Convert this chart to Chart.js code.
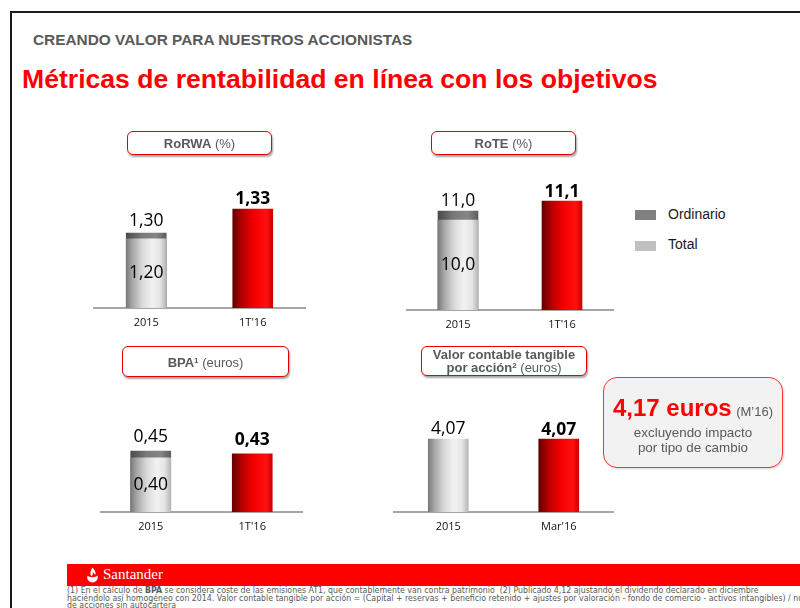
<!DOCTYPE html>
<html><head><meta charset="utf-8">
<script src="https://cdn.jsdelivr.net/npm/chart.js@4.4.1/dist/chart.umd.min.js"></script>
<style>
html,body{margin:0;padding:0;background:#fff;}
body{width:800px;height:608px;position:relative;overflow:hidden;font-family:'Liberation Sans',Arial,sans-serif;}
.abs{position:absolute;}
#frame{left:10px;top:11px;width:820px;height:640px;border-left:2px solid #1a1a1a;border-top:2px solid #1a1a1a;}
#hdr{left:33px;top:31px;font-weight:bold;font-size:15.4px;color:#595959;white-space:nowrap;}
#ttl{left:22px;top:64px;font-weight:bold;font-size:26.6px;color:#ff0000;white-space:nowrap;}
.tbox{position:absolute;border:1.5px solid #e60000;border-radius:6px;background:#fff;box-shadow:1px 2px 2px rgba(0,0,0,0.35);display:flex;align-items:center;justify-content:center;text-align:center;font-size:13px;color:#595959;box-sizing:border-box;z-index:2;line-height:11px;}
.tbox b{color:#595959;}
.leg{position:absolute;font-size:14px;color:#1a1a1a;white-space:nowrap;}
.sw{position:absolute;width:21px;height:10px;}
#call{left:603px;top:377px;width:180px;height:91px;border:1.5px solid #ff3333;border-radius:14px;background:#f2f2f2;box-sizing:border-box;box-shadow:1px 1px 2px rgba(0,0,0,0.15);text-align:center;color:#595959;}
#footbar{left:67px;top:564px;width:740px;height:22px;background:#ff0000;}
#foot{left:67px;top:586px;width:820px;font-family:'Liberation Sans Narrow','DejaVu Sans Condensed',sans-serif;font-size:9.5px;line-height:7.7px;color:#595959;white-space:nowrap;overflow:hidden;height:22px;transform:scaleX(0.92);transform-origin:0 0;}
canvas{position:absolute;}
</style>
</head>
<body>
<div id="frame" class="abs"></div>
<div id="hdr" class="abs">CREANDO VALOR PARA NUESTROS ACCIONISTAS</div>
<div id="ttl" class="abs">Métricas de rentabilidad en línea con los objetivos</div>

<canvas id="c1" width="213" height="190" style="left:93px;top:148px"></canvas>
<canvas id="c2" width="208" height="190" style="left:406px;top:150px"></canvas>
<canvas id="c3" width="203" height="190" style="left:100px;top:352px"></canvas>
<canvas id="c4" width="221" height="190" style="left:393px;top:352px"></canvas>

<div class="tbox" style="left:127px;top:131px;width:145px;height:24px;"><span><b>RoRWA</b> (%)</span></div>
<div class="tbox" style="left:431px;top:131px;width:145px;height:24px;"><span><b>RoTE</b> (%)</span></div>
<div class="tbox" style="left:122px;top:346px;width:167px;height:31px;"><span><b>BPA<sup style="font-size:8px;vertical-align:4px">1</sup></b> (euros)</span></div>
<div class="tbox" style="left:421px;top:346px;width:166px;height:30px;"><span><b>Valor contable tangible<br>por acción<sup style="font-size:8px;vertical-align:4px">2</sup></b> (euros)</span></div>

<div class="sw" style="left:635px;top:210px;background:#808080"></div>
<div class="leg" style="left:668px;top:206px">Ordinario</div>
<div class="sw" style="left:635px;top:241px;background:#c0c0c0"></div>
<div class="leg" style="left:668px;top:236px">Total</div>

<div id="call" class="abs">
  <div style="margin-top:16px;white-space:nowrap"><span style="color:#ff0000;font-weight:bold;font-size:24px">4,17 euros</span> <span style="font-size:13px;color:#595959">(M’16)</span></div>
  <div style="font-size:13.4px;line-height:15px;margin-top:3px">excluyendo impacto<br>por tipo de cambio</div>
</div>

<div id="footbar" class="abs">
  <svg style="position:absolute;left:19px;top:3px" width="13" height="16" viewBox="0 0 14 16"><path d="M7 0 C9.5 3 11 5 10 8 C9 6.5 8 5.5 7 4.5 C8 6.5 7.2 8 6 9.2 C4 7.5 4.5 4 7 0Z M1.8 8.6 C0 12 3 16 7 16 C11 16 14 12 12.2 8.6 C11 11 3 11 1.8 8.6Z" fill="#fff"/></svg>
  <div style="position:absolute;left:36px;top:2px;color:#fff;font-family:'Liberation Serif',serif;font-size:15px;">Santander</div>
</div>
<div id="foot" class="abs">(1) En el cálculo de <b>BPA</b> se considera coste de las emisiones AT1, que contablemente van contra patrimonio &nbsp;(2) Publicado 4,12 ajustando el dividendo declarado en diciembre<br>haciéndolo así homogéneo con 2014. Valor contable tangible por acción = (Capital + reservas + beneficio retenido + ajustes por valoración - fondo de comercio - activos intangibles) / número<br>de acciones sin autocartera</div>

<script>
// ---- Data ----
const rorwaLabels = ['2015', "1T'16"];
const rorwaTotal = [1.20, null];
const rorwaOrdinario = [1.30, null];
const rorwaActual = [null, 1.33];

const roteLabels = ['2015', "1T'16"];
const roteTotal = [10.0, null];
const roteOrdinario = [11.0, null];
const roteActual = [null, 11.1];

const bpaLabels = ['2015', "1T'16"];
const bpaTotal = [0.40, null];
const bpaOrdinario = [0.45, null];
const bpaActual = [null, 0.43];

const vctLabels = ['2015', "Mar'16"];
const vctTotal = [4.07, null];
const vctActual = [null, 4.07];

// ---- Styles ----
const BAR = 40;
const greyStops = [[0,'#7a7a7a'],[0.15,'#a6a6a6'],[0.4,'#d9d9d9'],[0.65,'#f2f2f2'],[0.85,'#e4e4e4'],[1,'#b5b5b5']];
const capStops = [[0,'#4a4a4a'],[0.4,'#7a7a7a'],[0.75,'#858585'],[1,'#5e5e5e']];
const redStops = [[0,'#650000'],[0.25,'#b80000'],[0.55,'#f50000'],[0.85,'#ff1010'],[1,'#cc0000']];

function barFill(stops){
  return (c) => {
    const chart = c.chart;
    if (c.type !== 'data' || !chart.chartArea || !chart.scales.x) return stops[Math.floor(stops.length/2)][1];
    const x = chart.scales.x.getPixelForValue(c.dataIndex);
    const g = chart.ctx.createLinearGradient(x - BAR/2, 0, x + BAR/2, 0);
    stops.forEach(([o,col]) => g.addColorStop(o,col));
    return g;
  };
}

const valueLabels = {
  id: 'valueLabels',
  afterDatasetsDraw(chart, args, opts) {
    const ctx = chart.ctx;
    chart.data.datasets.forEach((ds, di) => {
      const meta = chart.getDatasetMeta(di);
      const pos = opts.pos[di];
      if (!pos) return;
      meta.data.forEach((el, i) => {
        const v = ds.data[i];
        if (v == null) return;
        const txt = v.toFixed(opts.decimals).replace('.', ',');
        ctx.save();
        ctx.font = (pos === 'bold' ? 'bold ' : '') + '17.5px "Open Sans"';
        ctx.fillStyle = '#000';
        ctx.textAlign = 'center';
        if (pos === 'inside') {
          ctx.textBaseline = 'middle';
          ctx.fillText(txt, el.x, (el.y + el.base) / 2);
        } else {
          ctx.textBaseline = 'bottom';
          ctx.fillText(txt, el.x, el.y - (pos === 'bold' ? opts.gapB : opts.gap));
        }
        ctx.restore();
      });
    });
  }
};

function makeChart(id, labels, datasets, pos, decimals, yMax, y2Max, gap, gapB) {
  new Chart(document.getElementById(id), {
    type: 'bar',
    data: { labels, datasets },
    options: {
      responsive: false,
      animation: false,
      layout: { padding: { top: 30, bottom: 0.8, left: 0, right: 0 } },
      plugins: {
        legend: { display: false },
        tooltip: { enabled: false },
        valueLabels: { pos, decimals, gap, gapB }
      },
      datasets: { bar: { barThickness: BAR, borderWidth: 0 } },
      scales: {
        x: {
          stacked: true,
          grid: { display: false, drawTicks: false },
          border: { display: true, color: '#a6a6a6', width: 2 },
          ticks: { padding: 8, color: '#111', font: { family: 'Open Sans', size: 11 } }
        },
        y: { display: false, min: 0, max: yMax, stacked: false },
        y2: { display: false, min: 0, max: y2Max, stacked: false }
      }
    },
    plugins: [valueLabels]
  });
}

function ds3(total, ordinario, actual) {
  return [
    { label: 'Total', data: total, yAxisID: 'y', backgroundColor: barFill(greyStops) },
    { label: 'Ordinario', data: ordinario, yAxisID: 'y', backgroundColor: barFill(capStops) },
    { label: 'Actual', data: actual, yAxisID: 'y2', backgroundColor: barFill(redStops) }
  ];
}

makeChart('c1', rorwaLabels, ds3(rorwaTotal, rorwaOrdinario, rorwaActual), ['inside','above','bold'], 2, 2.253, 1.746, 3, 1);
makeChart('c2', roteLabels, ds3(roteTotal, roteOrdinario, roteActual), ['inside','above','bold'], 1, 14.44, 13.24, 1, 0);
makeChart('c3', bpaLabels, ds3(bpaTotal, bpaOrdinario, bpaActual), ['inside','above','bold'], 2, 0.959, 0.959, 5, 5);
makeChart('c4', vctLabels, [
  { label: 'Total', data: vctTotal, yAxisID: 'y', backgroundColor: barFill(greyStops) },
  { label: 'Actual', data: vctActual, yAxisID: 'y', backgroundColor: barFill(redStops) }
], ['above','bold'], 2, 7.25, 7.25, 1, 0);
</script>
</body></html>
